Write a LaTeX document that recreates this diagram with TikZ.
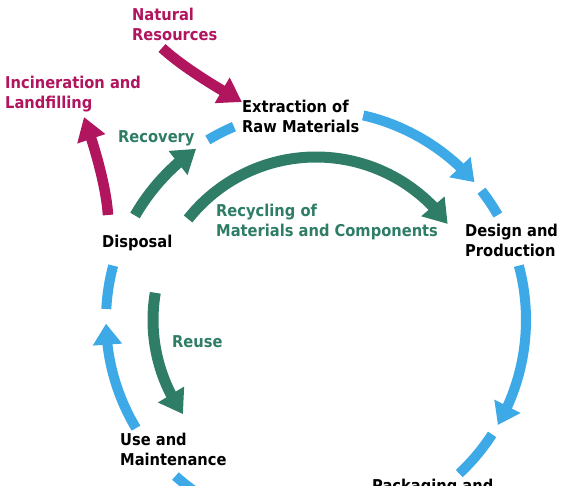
\documentclass[tikz,border=0pt]{standalone}
\usepackage{fontspec}
\setmainfont{DejaVu Sans}[FakeStretch=0.9]
\usetikzlibrary{arrows.meta,bending}
\definecolor{cblue}{HTML}{3DA9E6}
\definecolor{cgreen}{HTML}{2F7D66}
\definecolor{cmag}{HTML}{B0155E}
\begin{document}
\begin{tikzpicture}[x=1pt,y=1pt,
  lbl/.style={font=\bfseries\fontsize{16.3}{19.5}\selectfont, inner sep=0pt, anchor=base west, align=left},
  blk/.style={lbl, text=black},
  grn/.style={lbl, text=cgreen},
  mag/.style={lbl, text=cmag},
  flow/.style={line width=10pt, draw=cblue},
  flowtip/.style={flow, -{Triangle[length=21pt,width=28pt,flex]}},
  gtip/.style={line width=11pt, draw=cgreen, -{Triangle[length=23pt,width=29pt,flex]}},
  mtip/.style={line width=10.5pt, draw=cmag, -{Triangle[length=23pt,width=28pt,flex]}},
]
\useasboundingbox (0,0) rectangle (581,486);
\clip (0,0) rectangle (581,486);
\coordinate (C) at (316,166);

% labels (anchor = baseline of the last line)
\node[mag] (nat) at (132,445.5) {Natural\\Resources};
\node[mag] (inc) at (5,377.5) {Incineration and\\Landfilling};
\node[blk] (ext) at (242,353.5) {Extraction of\\Raw Materials};
\node[grn] (rec) at (118,343) {Recovery};
\node[grn] (rcy) at (216,249.5) {Recycling of\\Materials and Components};
\node[blk] (des) at (465,229.5) {Design and\\Production};
\node[blk] (dis) at (102,238) {Disposal};
\node[grn] (reu) at (172,138) {Reuse};
\node[blk] (use) at (120,20.5) {Use and\\Maintenance};
\node[blk] (pac) at (372,-6) {Packaging and};

% main blue cycle
\draw[flow] ([shift={(121:210)}]C) arc[start angle=121, end angle=113, radius=210];
\draw[flowtip] ([shift={(77:210)}]C) arc[start angle=77, end angle=41, radius=210];
\draw[flow] ([shift={(38:210)}]C) arc[start angle=38, end angle=30, radius=210];
\draw[flowtip] ([shift={(15:210)}]C) arc[start angle=15, end angle=-30, radius=210];
\draw[flow] ([shift={(-33:210)}]C) arc[start angle=-33, end angle=-47, radius=210];
\draw[flow] ([shift={(243:210)}]C) arc[start angle=243, end angle=228, radius=210];
\draw[flowtip] ([shift={(211:210)}]C) arc[start angle=211, end angle=181, radius=210];
\draw[flow] ([shift={(177:210)}]C) arc[start angle=177, end angle=165, radius=210];

% green loops
\draw[gtip] ([shift={(150:209)}]C) arc[start angle=150, end angle=125, radius=209];
\draw[gtip] ([shift={(141.7:163)}]C) arc[start angle=141.7, end angle=36.1, radius=163];
\draw[gtip] ([shift={(170.4:163)}]C) arc[start angle=170.4, end angle=215.3, radius=163];

% magenta in/out flows
\coordinate (ns) at (162,438);
\coordinate (ne) at (242,384);
\draw[mtip] (ns) .. controls (184,418) and (216,399) .. (ne);
\coordinate (is) at (108,271);
\coordinate (ie) at (84,369);
\draw[mtip] (is) .. controls (106,301) and (94,341) .. (ie);
\end{tikzpicture}
\end{document}
